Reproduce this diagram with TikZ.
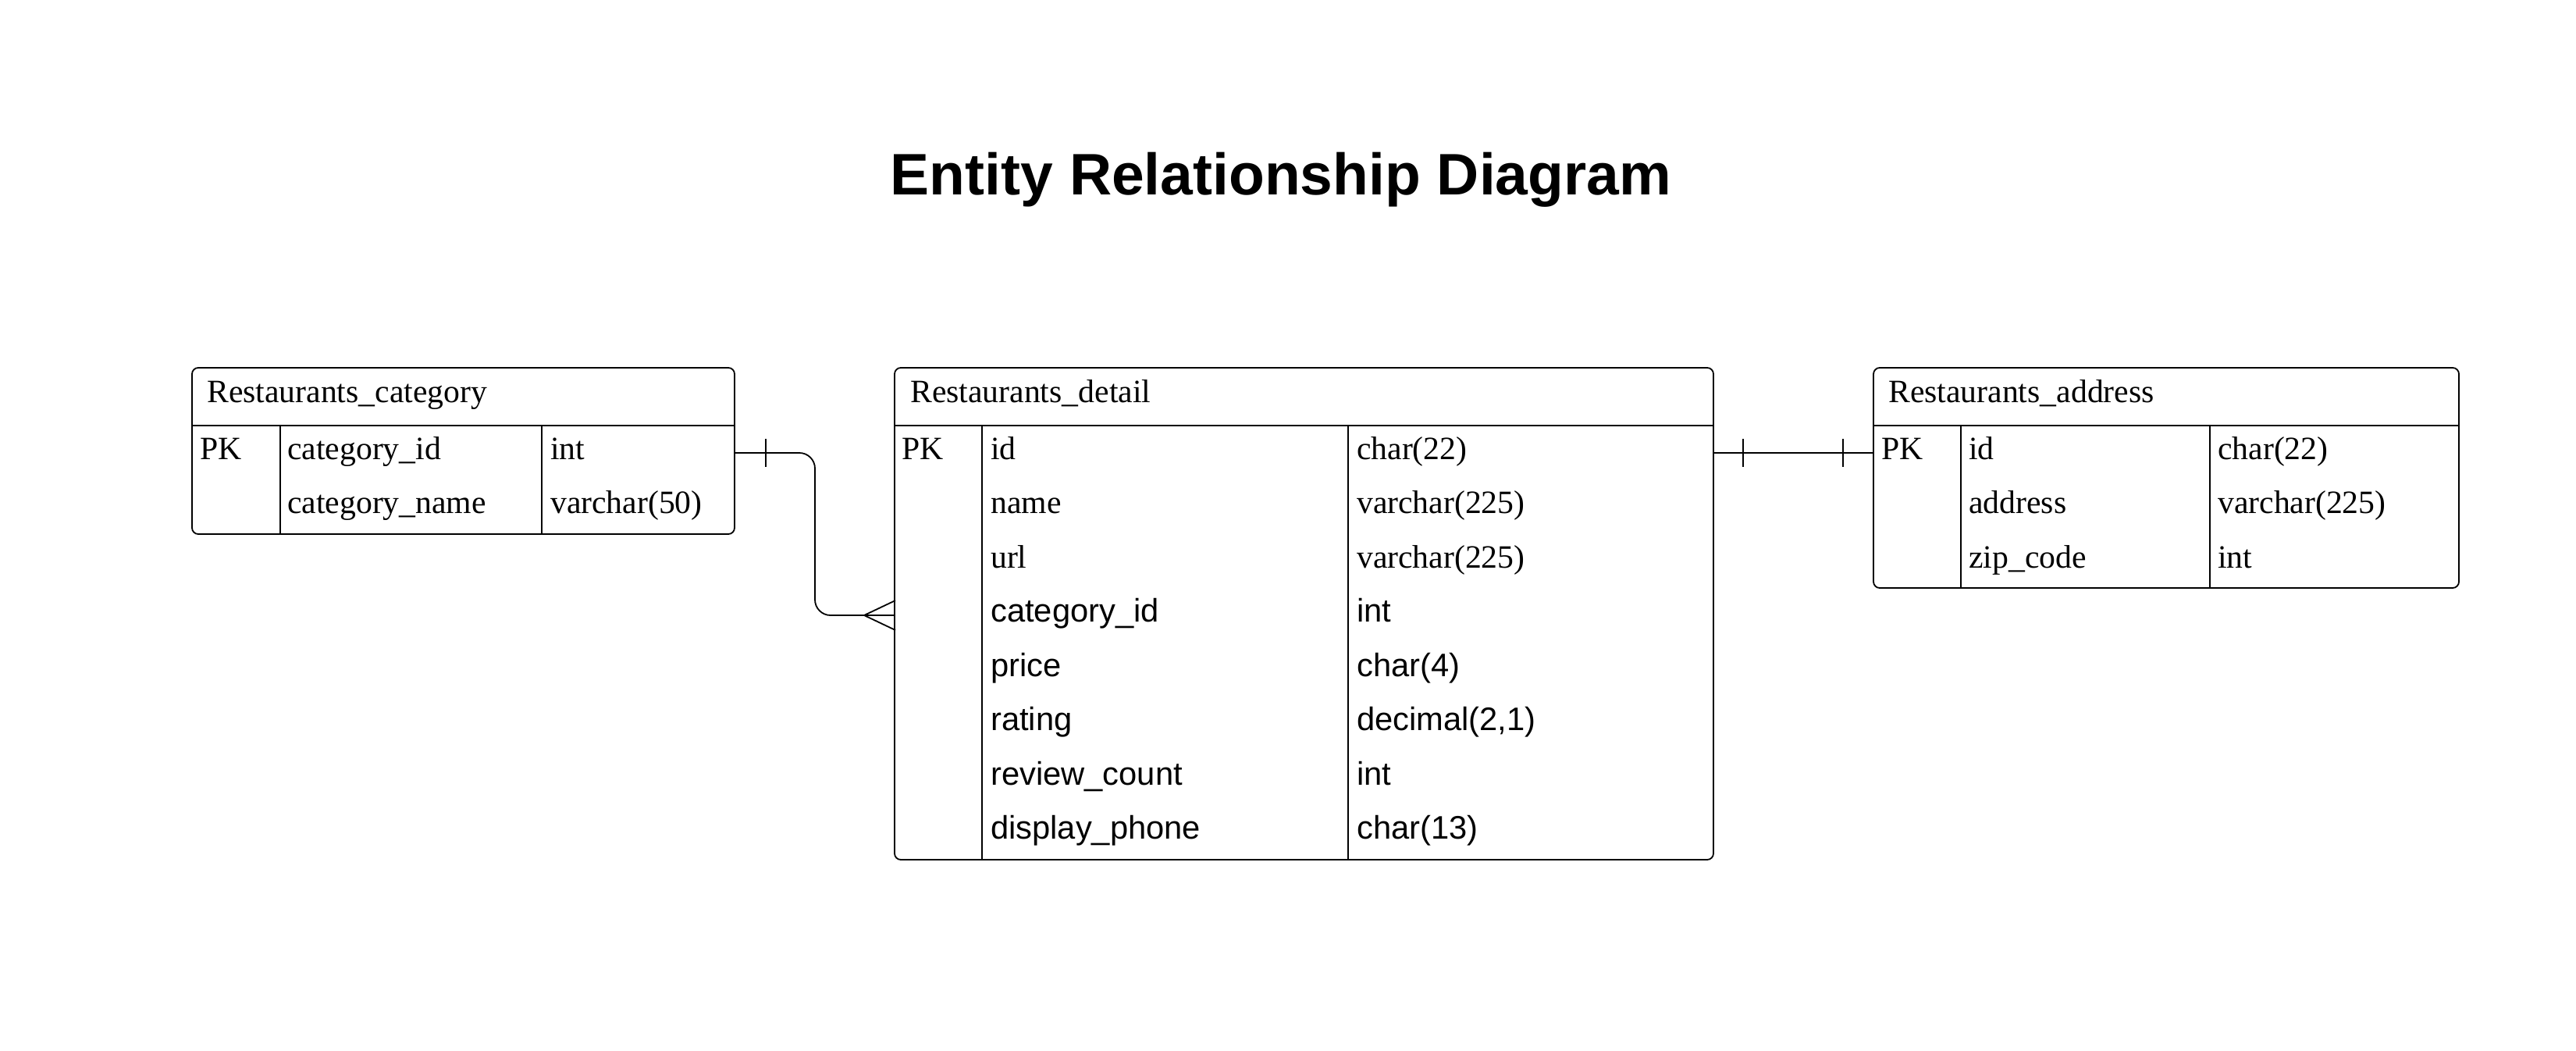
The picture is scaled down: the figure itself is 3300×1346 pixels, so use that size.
\documentclass[tikz,border=0pt]{standalone}
\usepackage{fontspec}
\setmainfont{Liberation Serif}
\setsansfont{Liberation Sans}
\begin{document}
\begin{tikzpicture}[x=1pt,y=-1pt,
  lw/.style={line width=1.8pt},
  tbl/.style={draw, lw, rounded corners=8pt, anchor=north west, inner sep=0pt, outer sep=0pt},
  fs/.style={anchor=base west, inner sep=0pt, font=\fontsize{41.7}{48}\selectfont\rmfamily},
  fss/.style={anchor=base west, inner sep=0pt, font=\fontsize{41.7}{48}\selectfont\sffamily},
  ttl/.style={anchor=base, inner sep=0pt, font=\fontsize{75}{86}\selectfont\sffamily\bfseries},
  conn/.style={lw, line cap=butt}]
\useasboundingbox (0,0) rectangle (3300,1346);
\fill[white] (0,0) rectangle (3300,1346);

% title
\node[ttl] (title) at (1641,249) {Entity Relationship Diagram};

% ---------- Restaurants_category ----------
\node[tbl, minimum width=695pt, minimum height=213pt] (cat) at (246,471) {};
\draw[lw] (246,545) -- (941,545);
\draw[lw] (359,545) -- (359,684);
\draw[lw] (694,545) -- (694,684);
\node[fs] (cath) at (265,515) {Restaurants\_category};
\node[fs] (catpk) at (256,588) {PK};
\node[fs] (catn1) at (368,588) {category\_id};
\node[fs] (catt1) at (705,588) {int};
\node[fs] (catn2) at (368,657) {category\_name};
\node[fs] (catt2) at (705,657) {varchar(50)};

% ---------- Restaurants_detail ----------
\node[tbl, minimum width=1049pt, minimum height=630pt] (det) at (1146,471) {};
\draw[lw] (1146,545) -- (2195,545);
\draw[lw] (1258,545) -- (1258,1101);
\draw[lw] (1727,545) -- (1727,1101);
\node[fs] (deth) at (1166,515) {Restaurants\_detail};
\node[fs] (detpk) at (1155,588) {PK};
\node[fs] (detn1) at (1269,588) {id};
\node[fs] (dett1) at (1738,588) {char(22)};
\node[fs] (detn2) at (1269,657.5) {name};
\node[fs] (dett2) at (1738,657.5) {varchar(225)};
\node[fs] (detn3) at (1269,727) {url};
\node[fs] (dett3) at (1738,727) {varchar(225)};
\node[fss] (detn4) at (1269,796.5) {category\_id};
\node[fss] (dett4) at (1738,796.5) {int};
\node[fss] (detn5) at (1269,866) {price};
\node[fss] (dett5) at (1738,866) {char(4)};
\node[fss] (detn6) at (1269,935.5) {rating};
\node[fss] (dett6) at (1738,935.5) {decimal(2,1)};
\node[fss] (detn7) at (1269,1005) {review\_count};
\node[fss] (dett7) at (1738,1005) {int};
\node[fss] (detn8) at (1269,1074.5) {display\_phone};
\node[fss] (dett8) at (1738,1074.5) {char(13)};

% ---------- Restaurants_address ----------
\node[tbl, minimum width=750pt, minimum height=282pt] (adr) at (2400,471) {};
\draw[lw] (2400,545) -- (3150,545);
\draw[lw] (2512,545) -- (2512,753);
\draw[lw] (2831,545) -- (2831,753);
\node[fs] (adrh) at (2419,515) {Restaurants\_address};
\node[fs] (adrpk) at (2410,588) {PK};
\node[fs] (adrn1) at (2522,588) {id};
\node[fs] (adrt1) at (2841,588) {char(22)};
\node[fs] (adrn2) at (2522,657.5) {address};
\node[fs] (adrt2) at (2841,657.5) {varchar(225)};
\node[fs] (adrn3) at (2522,727) {zip\_code};
\node[fs] (adrt3) at (2841,727) {int};

% ---------- connectors ----------
\coordinate (c1a) at (cat.east |- 0,580);
\coordinate (c1b) at (det.west |- 0,788);
\draw[conn, rounded corners=20pt] (c1a) -- (1044,580) -- (1044,788) -- (c1b);
\draw[conn] (981,562) -- (981,598);
\draw[conn] (1107,788) -- (1147,769);
\draw[conn] (1107,788) -- (1147,807);

\coordinate (c2a) at (det.east |- 0,580);
\coordinate (c2b) at (adr.west |- 0,580);
\draw[conn] (c2a) -- (c2b);
\draw[conn] (2233,562) -- (2233,598);
\draw[conn] (2361,562) -- (2361,598);
\end{tikzpicture}
\end{document}
